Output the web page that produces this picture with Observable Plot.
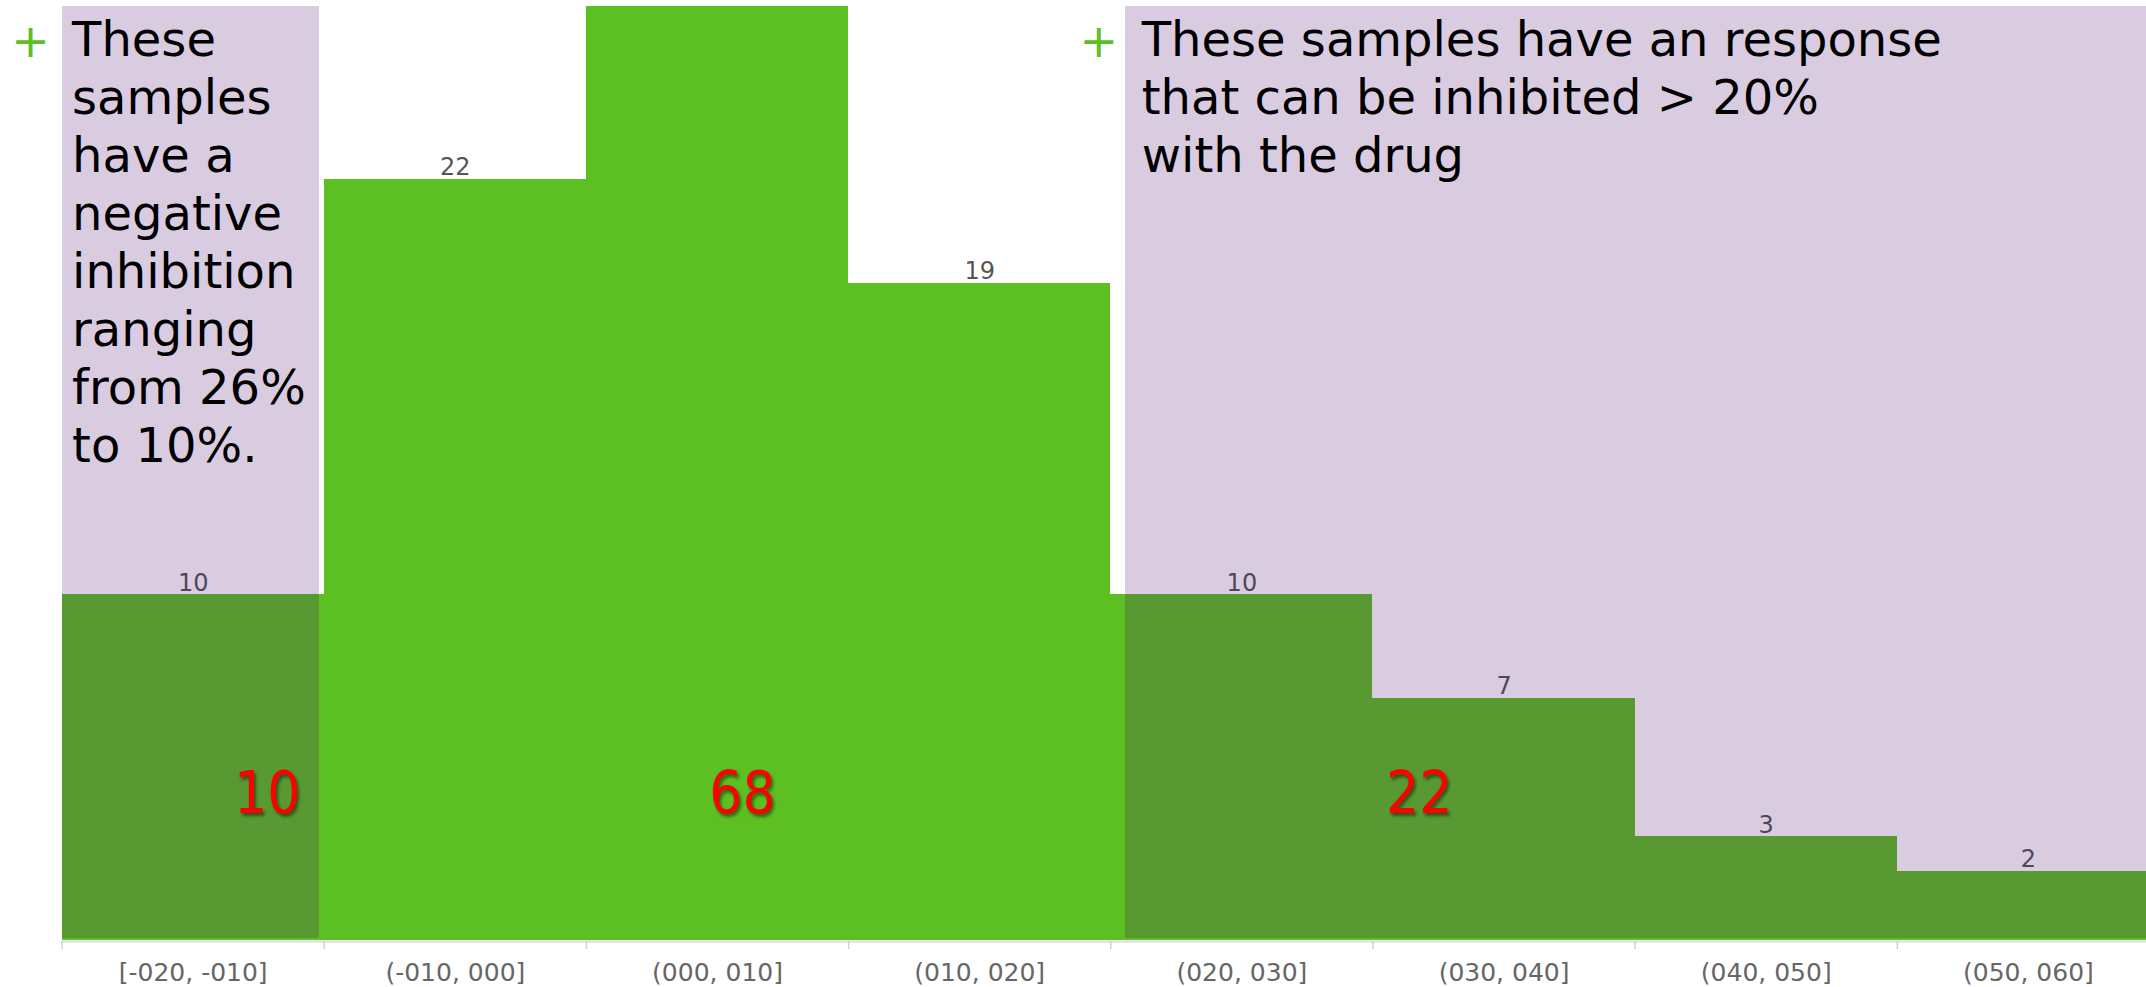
<!DOCTYPE html>
<html>
<head>
<meta charset="utf-8">
<script src="https://cdn.jsdelivr.net/npm/d3@7"></script>
<script src="https://cdn.jsdelivr.net/npm/@observablehq/plot@0.6"></script>
<style>
  html, body { margin: 0; padding: 0; overflow: hidden; background: #fff; }
  #chart svg { overflow: hidden; display: block; }
</style>
</head>
<body>
<div id="chart"></div>
<script>
// ---- data ----
const binLabels = ["[-020, -010]", "(-010, 000]", "(000, 010]", "(010, 020]", "(020, 030]", "(030, 040]", "(040, 050]", "(050, 060]"];
const binStart = [-20, -10, 0, 10, 20, 30, 40, 50];
const binEnd = [-10, 0, 10, 20, 30, 40, 50, 60];
const counts = [10, 22, 27, 19, 10, 7, 3, 2];

const groupTotals = ["10", "68", "22"];
const groupStart = [-20, -10, 20];
const groupEnd = [-10, 20, 60];

const noteTexts = [
  "These\nsamples\nhave a\nnegative\ninhibition\nranging\nfrom 26%\nto 10%.",
  "These samples have an response\nthat can be inhibited > 20%\nwith the drug"
];
const noteStart = [-20, 20];
const noteEnd = [-10, 60];

// ---- tables built from the arrays ----
const bins = binLabels.map((label, i) => ({label, x1: binStart[i], x2: binEnd[i], mid: (binStart[i] + binEnd[i]) / 2, count: counts[i]}));
const groups = groupTotals.map((text, i) => ({text, x1: groupStart[i], x2: groupEnd[i], mid: (groupStart[i] + groupEnd[i]) / 2}));
const notes = noteTexts.map((text, i) => ({text, x1: noteStart[i], x2: noteEnd[i]}));
const edges = Array.from(new Set([...binStart, ...binEnd])).sort((a, b) => a - b);
const labelOf = new Map(bins.map(b => [b.mid, b.label]));
const yTop = d3.max(counts);

const GREEN = "#5cbf22";
const VEIL = "rgb(77,15,109)";
const FONT = "DejaVu Sans, Verdana, sans-serif";
const COND = "'DejaVu Sans Condensed', 'DejaVu Sans', sans-serif";

const groupMark = (g, dx, shadow) => Plot.text([g], {
  x: "mid", text: "text", frameAnchor: "bottom", dy: -146 + (shadow ? 3 : 0), dx: dx + (shadow ? 2 : 0),
  lineAnchor: "middle", textAnchor: "middle", fontSize: 58, fontFamily: COND,
  fill: shadow ? "#000" : "#ff0000", fillOpacity: shadow ? 0.45 : 1,
  ariaDescription: shadow ? "shadow" : "total"
});

const chart = Plot.plot({
  width: 2146,
  height: 987,
  marginTop: 6,
  marginBottom: 47,
  marginLeft: 62,
  marginRight: 0,
  style: {fontFamily: FONT, background: "#fff"},
  x: {domain: [-20, 60], range: [61.6, 2159], axis: null, label: null},
  y: {domain: [0, yTop], axis: null, label: null},
  marks: [
    Plot.rectY(bins, {x1: "x1", x2: "x2", y: "count", fill: GREEN, shapeRendering: "crispEdges"}),
    // value labels (the tallest bar's label sits above the visible frame)
    Plot.text(bins.filter(d => d.count < yTop), {x: "mid", y: "count", text: d => String(d.count), lineAnchor: "bottom", dy: -4, fontSize: 24, fill: "#555"}),
    // translucent annotation veils
    Plot.rect([notes[0]], {x1: "x1", x2: "x2", y1: 0, y2: yTop, fill: VEIL, fillOpacity: 0.213, insetRight: 5, insetBottom: 2, shapeRendering: "crispEdges"}),
    Plot.rect([notes[1]], {x1: "x1", x2: "x2", y1: 0, y2: yTop, fill: VEIL, fillOpacity: 0.213, insetLeft: 15, insetBottom: 2, shapeRendering: "crispEdges"}),
    Plot.ruleY([0], {stroke: "#dcdcdc", strokeWidth: 2, dy: 1}),
    Plot.axisX(edges, {tickSize: 8, tickFormat: () => "", stroke: "#d0d0d0", strokeWidth: 1.5, dy: 1, label: null}),
    Plot.axisX(bins.map(b => b.mid), {tickSize: 0, tickPadding: 23, tickFormat: d => labelOf.get(d), fontSize: 25, fill: "#666", label: null}),
    // notes
    Plot.text([notes[0]], {x: "x1", text: "text", frameAnchor: "top", textAnchor: "start", lineAnchor: "top", dx: 10, dy: 8, fontSize: 48, lineHeight: 1.208, fill: "#000"}),
    Plot.text([notes[1]], {x: "x1", text: "text", frameAnchor: "top", textAnchor: "start", lineAnchor: "top", dx: 31, dy: 8, fontSize: 48, lineHeight: 1.208, fill: "#000"}),
    Plot.text([notes[0]], {x: "x1", text: () => "+", frameAnchor: "top", textAnchor: "middle", lineAnchor: "middle", dx: -31.6, dy: 36, fontSize: 46, fill: GREEN}),
    Plot.text([notes[1]], {x: "x1", text: () => "+", frameAnchor: "top", textAnchor: "middle", lineAnchor: "middle", dx: -12, dy: 36, fontSize: 46, fill: GREEN}),
    // group totals
    groupMark(groups[0], 74, true), groupMark(groups[0], 74, false),
    groupMark(groups[1], 25, true), groupMark(groups[1], 25, false),
    groupMark(groups[2], -216, true), groupMark(groups[2], -216, false)
  ]
});
d3.select(chart).selectAll("g[aria-description='shadow']").style("filter", "blur(1.5px)");
document.getElementById("chart").append(chart);
</script>
</body>
</html>
